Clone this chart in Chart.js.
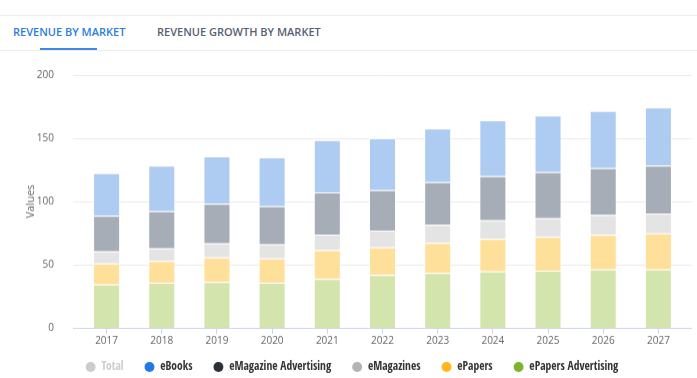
<!DOCTYPE html>
<html>
<head>
<meta charset="utf-8">
<script src="https://cdn.jsdelivr.net/npm/chart.js@4.4.1/dist/chart.umd.min.js"></script>
<style>
    body { margin: 0; background: #fff; width: 697px; height: 378px; overflow: hidden; position: relative; font-family: 'Open Sans', sans-serif; }
    .tabs { position: absolute; top: 15px; left: 0; width: 697px; height: 34px; border-top: 1px solid #ececec; border-bottom: 1px solid #eeeeee; }
    .tab { position: absolute; top: 8px; font-size: 11px; font-weight: 600; color: #586174; }
    .tab.active { color: #2b7de0; }
    .underline { position: absolute; left: 40px; width: 57px; top: 32px; height: 2px; background: #3c8ae6; }
    .wrap { position: absolute; top: 50px; left: 0; width: 697px; height: 338.5px; }
</style>
</head>
<body>
<div class="tabs">
    <span class="tab active" style="left:13px">REVENUE BY MARKET</span>
    <span class="tab" style="left:157px">REVENUE GROWTH BY MARKET</span>
    <div class="underline"></div>
</div>
<div class="wrap"><canvas id="chart01"></canvas></div>
<script>
const years = ['2017', '2018', '2019', '2020', '2021', '2022', '2023', '2024', '2025', '2026', '2027'];
const yTicks = [0, 50, 100, 150, 200];

// de baixo para cima
const ePapersAdvertising = [34.4, 35.7, 36.3, 35.7, 38.6, 41.8, 43.4, 44.7, 45.2, 46.3, 46.3];
const ePapers = [16.6, 17.2, 19.5, 19.3, 23.0, 21.9, 23.8, 25.7, 26.8, 27.3, 28.5];
const eMagazines = [9.6, 10.0, 11.1, 11.1, 12.2, 13.3, 14.3, 14.8, 14.8, 15.6, 15.7];
const eMagazineAdvertising = [28.1, 29.4, 31.3, 30.2, 33.3, 32.0, 33.8, 34.9, 36.5, 37.2, 37.8];
const eBooks = [33.8, 36.0, 37.5, 38.6, 41.6, 41.0, 42.4, 44.2, 44.7, 45.3, 46.1];
const total = years.map((y, i) => ePapersAdvertising[i] + ePapers[i] + eMagazines[i] + eMagazineAdvertising[i] + eBooks[i]);

const ctx01 = document.getElementById('chart01');

function serie(label, data, bg, dot) {
    return {
        label: label,
        data: data,
        backgroundColor: bg,
        dotColor: dot,
        borderColor: 'rgba(255,255,255,0.75)',
        borderWidth: 1,
        stack: 's1'
    };
}

const datasets = [
    serie('ePapers Advertising', ePapersAdvertising, '#d4e4ad', '#7db42c'),
    serie('ePapers', ePapers, '#ffe09b', '#ffb71b'),
    serie('eMagazines', eMagazines, '#e4e4e4', '#b3b3b3'),
    serie('eMagazine Advertising', eMagazineAdvertising, '#a6adb6', '#2c3038'),
    serie('eBooks', eBooks, '#aecbf1', '#2278e4'),
    Object.assign(serie('Total', total, '#cccccc', '#cccccc'), { hidden: true, stack: 'total' })
];

// linhas de grade mais largas que a area do grafico + legenda mais perto do eixo
const gridPlugin = {
    id: 'gridPlugin',
    afterLayout(chart) {
        chart.legend.top -= 6.75;
        chart.legend.bottom -= 6.75;
    },
    beforeDatasetsDraw(chart) {
        const c = chart.ctx;
        const y = chart.scales.y;
        c.save();
        c.lineWidth = 1;
        yTicks.forEach(t => {
            const py = Math.round(y.getPixelForValue(t)) + 0.5;
            c.strokeStyle = t === 0 ? '#ccd6eb' : '#ebebeb';
            c.beginPath();
            c.moveTo(73, py);
            c.lineTo(692, py);
            c.stroke();
        });
        c.restore();
    }
};

const chart = new Chart(ctx01, {
    type: 'bar',
    data: { labels: years, datasets: datasets },
    plugins: [gridPlugin],
    options: {
        responsive: true,
        maintainAspectRatio: false,
        animation: false,
        layout: { padding: { top: 25, right: 11, left: 18, bottom: 0 } },
        plugins: {
            tooltip: { enabled: false },
            legend: {
                position: 'bottom',
                labels: {
                    usePointStyle: true,
                    pointStyle: 'circle',
                    boxWidth: 10,
                    boxHeight: 7,
                    padding: 21,
                    font: { family: "'Open Sans Condensed', 'Roboto Condensed', sans-serif", size: 11.5, weight: 'bold' },
                    color: '#333333',
                    sort: (a, b) => b.datasetIndex - a.datasetIndex,
                    generateLabels: (ch) => ch.data.datasets.map((ds, i) => {
                        const off = !ch.isDatasetVisible(i);
                        return {
                            text: ds.label,
                            datasetIndex: i,
                            fillStyle: off ? '#cccccc' : ds.dotColor,
                            strokeStyle: off ? '#cccccc' : ds.dotColor,
                            fontColor: off ? '#cccccc' : '#333333',
                            lineWidth: 0,
                            pointStyle: 'circle',
                            hidden: false
                        };
                    })
                }
            }
        },
        scales: {
            x: {
                stacked: true,
                grid: { display: true, drawOnChartArea: false, drawTicks: true, tickLength: 6, color: '#ccd6eb', offset: false },
                border: { display: false },
                ticks: { color: '#666666', padding: 1, font: { family: "'Open Sans', sans-serif", size: 10 } },
                afterFit: (scale) => { scale.height = 19; }
            },
            y: {
                stacked: true,
                min: 0,
                max: 200,
                afterBuildTicks: (scale) => { scale.ticks = yTicks.map(v => ({ value: v })); },
                grid: { display: false },
                border: { display: false },
                ticks: { color: '#666666', padding: 17, font: { family: "'Open Sans', sans-serif", size: 10 } },
                title: { display: true, text: 'Values', color: '#666666', padding: { top: 6.4 }, font: { family: "'Open Sans', sans-serif", size: 11 } },
                afterFit: (scale) => { scale.width = 61; }
            }
        },
        datasets: {
            bar: { barPercentage: 0.49, categoryPercentage: 1 }
        }
    }
});
</script>
</body>
</html>
